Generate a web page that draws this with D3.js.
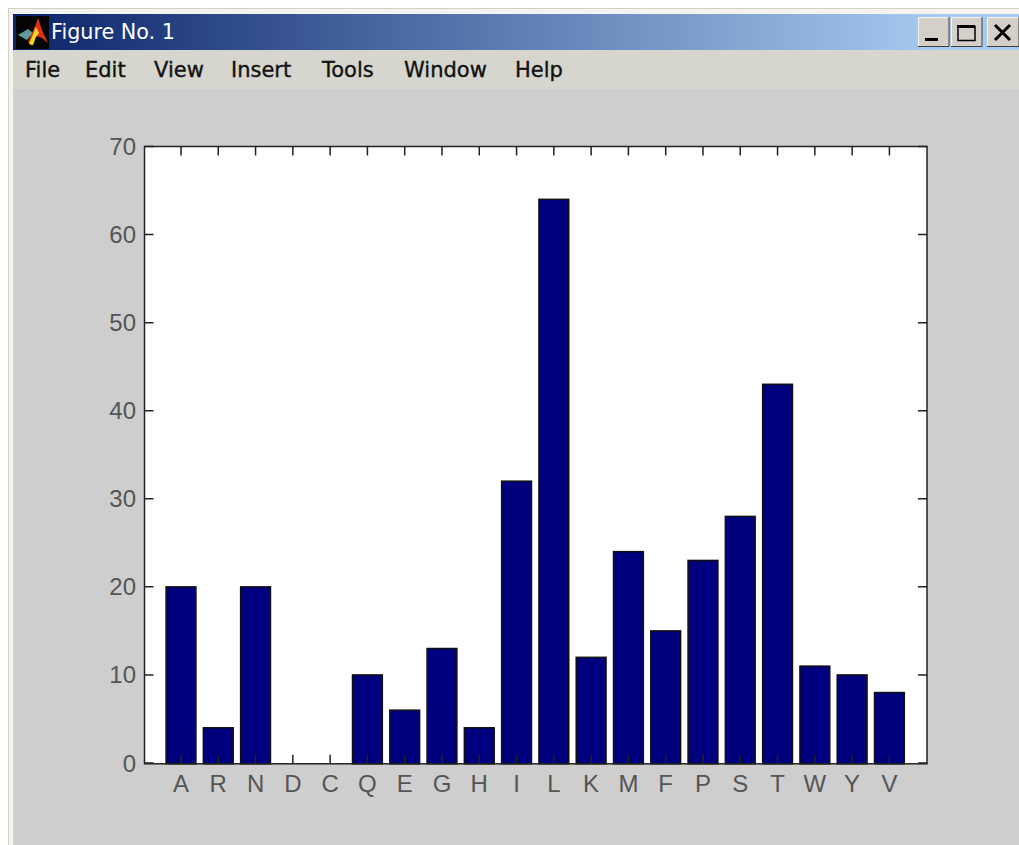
<!DOCTYPE html>
<html><head><meta charset="utf-8">
<script src="https://cdn.jsdelivr.net/npm/d3@7/dist/d3.min.js"></script>
<style>html,body{margin:0;padding:0;background:#fff;overflow:hidden}svg{display:block}</style>
</head><body><svg id="c" width="1019" height="845"></svg>
<script>
const categories = ["A","R","N","D","C","Q","E","G","H","I","L","K","M","F","P","S","T","W","Y","V"];
const counts = [20,4,20,0,0,10,6,13,4,32,64,12,24,15,23,28,43,11,10,8];
const yTicks = [0,10,20,30,40,50,60,70];
const menuItems = ["File","Edit","View","Insert","Tools","Window","Help"];
const menuX = [25,85,154,231,322,404,515];
const titleText = "Figure No. 1";

const svg = d3.select("#c");
const defs = svg.append("defs");
const grad = defs.append("linearGradient").attr("id","tb");
grad.append("stop").attr("offset","0").attr("stop-color","#0a246a");
grad.append("stop").attr("offset","0.92").attr("stop-color","#a6caf0");
grad.append("stop").attr("offset","1").attr("stop-color","#a6caf0");

// window chrome
svg.append("rect").attr("x",0).attr("y",0).attr("width",1019).attr("height",845).attr("fill","#ffffff");
svg.append("rect").attr("x",8).attr("y",8).attr("width",1011).attr("height",837).attr("fill","#d4d0c8");
svg.append("rect").attr("x",9).attr("y",9).attr("width",1010).attr("height",836).attr("fill","#f4f3ef");
svg.append("rect").attr("x",13).attr("y",14).attr("width",1006).attr("height",36).attr("fill","url(#tb)");
svg.append("rect").attr("x",13).attr("y",50).attr("width",1006).attr("height",39).attr("fill","#d6d5ce");
svg.append("rect").attr("x",13).attr("y",89).attr("width",1006).attr("height",756).attr("fill","#cecece");

// app icon
const ic = svg.append("g");
ic.append("rect").attr("x",16).attr("y",16).attr("width",33).attr("height",33).attr("fill","#050505");
ic.append("path").attr("d","M18 35 L28 29 L33 33 L27 40 Z").attr("fill","#5f9a9c");
ic.append("path").attr("d","M28 42 L36 24 L38 18 L42 30 L48 43 L42 38 L36 36 L32 46 Z").attr("fill","#e0301a");
ic.append("path").attr("d","M29 44 L36 27 L39 33 L36 37 L33 45 Z").attr("fill","#f2d91c");

svg.append("text").text(titleText).attr("x",51).attr("y",39)
  .attr("font-family","'DejaVu Sans',sans-serif").attr("font-size",20.7).attr("fill","#fff");

// title-bar buttons
const btns = [[918,"min"],[951,"max"],[987,"close"]];
btns.forEach(([x,k])=>{
  const w = k==="close"?32:31;
  svg.append("rect").attr("x",x).attr("y",17).attr("width",w).attr("height",29).attr("fill","#d4d0c8");
  svg.append("path").attr("d",`M${x+.5} 46V17.5H${x+w}`).attr("fill","none").attr("stroke","#f4f3ef");
  svg.append("path").attr("d",`M${x} 46.5H${x+w}V17`).attr("fill","none").attr("stroke","#404040");
});
svg.append("rect").attr("x",925).attr("y",38).attr("width",13).attr("height",3).attr("fill","#000");
svg.append("rect").attr("x",958).attr("y",26.5).attr("width",17).attr("height",14).attr("fill","none").attr("stroke","#000").attr("stroke-width",1.5);
svg.append("rect").attr("x",957).attr("y",25).attr("width",18).attr("height",3).attr("fill","#000");
svg.append("path").attr("d","M995 25L1010 40M1010 25L995 40").attr("stroke","#000").attr("stroke-width",3);

// menu
svg.append("g").selectAll("text").data(menuItems).join("text")
  .text(d=>d).attr("x",(d,i)=>menuX[i]).attr("y",77)
  .attr("font-family","'DejaVu Sans',sans-serif").attr("font-size",21).attr("fill","#111")
  .attr("stroke","#111").attr("stroke-width",0.35);

// plot
const L=144.5,R=927,T=146.5,B=763.8;
const x = d3.scaleLinear().domain([0,categories.length+1]).range([143.7,926.7]);
const y = d3.scaleLinear().domain([0,70]).range([763,146.5]);
const barW = 0.8*(x(1)-x(0));
svg.append("rect").attr("x",L).attr("y",T).attr("width",R-L).attr("height",B-T).attr("fill","#fff");

svg.append("g").selectAll("rect").data(counts.map((v,i)=>({v,i})).filter(d=>d.v>0)).join("rect")
  .attr("x",d=>x(d.i+1)-barW/2).attr("width",barW)
  .attr("y",d=>y(d.v)).attr("height",d=>B-y(d.v))
  .attr("fill","#00007f").attr("stroke","#111").attr("stroke-width",1.5);

const axisStroke="#222";
const frame = svg.append("g").attr("stroke",axisStroke).attr("fill","none").attr("stroke-width",1.5);
frame.append("rect").attr("x",L).attr("y",T).attr("width",R-L).attr("height",B-T);
const tl=9;
frame.selectAll(".xb").data(categories).join("path").attr("class","xb")
  .attr("d",(d,i)=>`M${x(i+1)} ${B}V${B-tl}M${x(i+1)} ${T}V${T+tl}`);
frame.selectAll(".yt").data(yTicks).join("path").attr("class","yt")
  .attr("d",d=>`M${L} ${y(d)}H${L+tl}M${R} ${y(d)}H${R-tl}`);

const lab = {"font-family":"'Liberation Sans',Arial,sans-serif","font-size":24,"fill":"#555"};
const xl = svg.append("g").selectAll("text").data(categories).join("text")
  .text(d=>d).attr("x",(d,i)=>x(i+1)).attr("y",792).attr("text-anchor","middle");
const yl = svg.append("g").selectAll("text").data(yTicks).join("text")
  .text(d=>d).attr("x",136).attr("y",d=>y(d)+8.5).attr("text-anchor","end");
for (const k in lab){xl.attr(k,lab[k]);yl.attr(k,lab[k]);}
</script></body></html>
